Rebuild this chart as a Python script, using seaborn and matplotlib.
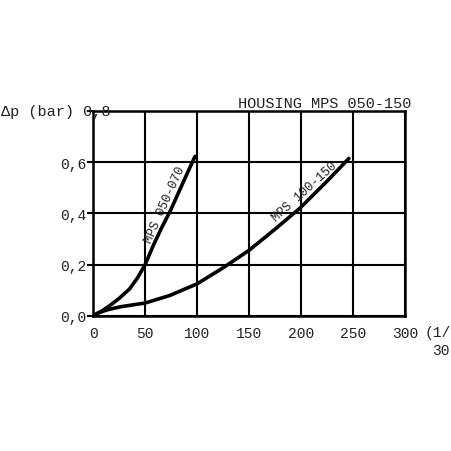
import pandas as pd
from matplotlib import pyplot as plt
import seaborn as sns

# curve MPS 050-070 (flow l/min, pressure drop bar)
flow_a = [0, 8, 16, 25, 35, 43, 50, 58, 66, 74, 82, 90, 98]
dp_a = [0, 0.018, 0.04, 0.068, 0.105, 0.15, 0.2, 0.276, 0.345, 0.408,
        0.48, 0.552, 0.623]
# curve MPS 100-150
flow_b = [0, 5, 14, 27, 50, 74, 100, 122, 131, 150, 176, 199, 225, 246]
dp_b = [0, 0.012, 0.024, 0.036, 0.05, 0.08, 0.125, 0.18, 0.204, 0.256,
        0.342, 0.421, 0.526, 0.615]

x_ticks = [0, 50, 100, 150, 200, 250, 300]
y_ticks = [0.0, 0.2, 0.4, 0.6]
y_labels = ['0,0', '0,2', '0,4', '0,6']

sns.set_theme(style='white')
plt.rcParams['font.family'] = ['Liberation Mono', 'DejaVu Sans Mono']
plt.rcParams['text.color'] = '#222222'

df = pd.concat([
    pd.DataFrame({'flow': flow_a, 'dp': dp_a, 'housing': 'MPS 050-070'}),
    pd.DataFrame({'flow': flow_b, 'dp': dp_b, 'housing': 'MPS 100-150'}),
])

fig = plt.figure(figsize=(4.52, 4.52), dpi=100)
ax = fig.add_axes([0.206, 0.299, 0.69, 0.453])

sns.lineplot(data=df, x='flow', y='dp', units='housing', estimator=None,
             sort=False, color='black', lw=2.6, ax=ax, legend=False)
for line in ax.lines:
    line.set_solid_joinstyle('round')

ax.set_xlim(0, 300)
ax.set_ylim(0, 0.8)
ax.set_xticks(x_ticks)
ax.set_yticks(y_ticks + [0.8])
ax.set_yticklabels(y_labels + [''])
ax.grid(True, color='black', lw=1.5)
for s in ax.spines.values():
    s.set_color('black')
    s.set_linewidth(1.8)
ax.tick_params(axis='y', left=True, length=4, width=1.5, color='black',
               labelsize=10.5, pad=1, labelcolor='#222222')
ax.tick_params(axis='x', bottom=False, labelsize=10.5, pad=1,
               labelcolor='#222222')
ax.set_xlabel('')
ax.set_ylabel('')

fig.text(0.002, 0.752, 'Δp (bar) 0,8', ha='left', va='center', fontsize=11)
ax.text(1.02, 1.005, 'HOUSING MPS 050-150', transform=ax.transAxes,
        ha='right', va='bottom', fontsize=11)
fig.text(0.94, 0.263, '(1/min)', ha='left', va='center', fontsize=10.5)
fig.text(0.955, 0.223, '30', ha='left', va='center', fontsize=10.5)

ax.text(69, 0.437, 'MPS 050-070', rotation=66, ha='center', va='center',
        rotation_mode='anchor', fontsize=9)
ax.text(203, 0.487, 'MPS 100-150', rotation=42, ha='center', va='center',
        rotation_mode='anchor', fontsize=9)

plt.savefig('out.png', dpi=100)
